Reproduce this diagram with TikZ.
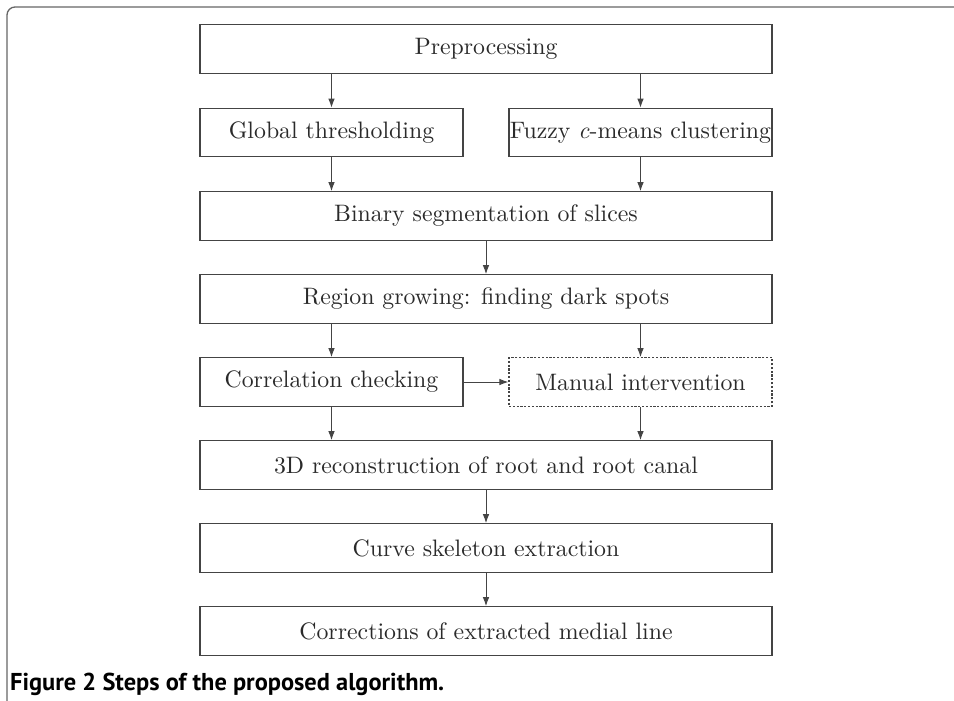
\documentclass[tikz,border=0pt]{standalone}
\usepackage{fontspec}
\newfontfamily\capfont{PT Sans}
\newfontfamily\boxfont{lmroman10-regular.otf}[ItalicFont=lmroman10-italic.otf]
\usetikzlibrary{arrows.meta}
\definecolor{lc}{HTML}{444444}
\definecolor{tc}{HTML}{2a2a2a}
\tikzset{
  stepbox/.style={draw=lc, line width=1.1pt, rectangle, minimum height=48.5pt, inner sep=0pt, text=tc, font=\boxfont\fontsize{23.8}{28}\selectfont},
  widebox/.style={stepbox, minimum width=572pt},
  halfbox/.style={stepbox, minimum width=263pt},
  manbox/.style={halfbox, dash pattern=on 2.2pt off 1.6pt},
  arr/.style={draw=lc, line width=1pt, -{Latex[length=9pt,width=6.5pt]}},
}
\begin{document}
\begin{tikzpicture}[x=1pt,y=-1pt]
\useasboundingbox (0,0) rectangle (954,701);
\draw[color=gray!80!black, line width=1.3pt, rounded corners=8pt] (7,701) -- (7,7) -- (954,7);
\node[widebox] (pre) at (486,49) {Preprocessing};
\node[halfbox] (glob) at (331.5,132.5) {Global thresholding};
\node[halfbox] (fuzzy) at (640.5,132.5) {Fuzzy \textit{c}-means clustering};
\node[widebox] (bin) at (486,216) {Binary segmentation of slices};
\node[widebox] (reg) at (486,299) {Region growing: finding dark spots};
\node[halfbox] (corr) at (331.5,382) {Correlation checking};
\node[manbox] (man) at (640.5,382) {Manual intervention};
\node[widebox] (rec) at (486,465) {3D reconstruction of root and root canal};
\node[widebox] (skel) at (486,548) {Curve skeleton extraction};
\node[widebox] (cor) at (486,631) {Corrections of extracted medial line};
\node[anchor=base west, inner sep=0pt, font=\capfont\bfseries\fontsize{24.4}{27}\selectfont] (cap) at (10,690) {Figure 2 Steps of the proposed algorithm.};
\draw[arr] (glob.north |- pre.south) -- (glob.north);
\draw[arr] (fuzzy.north |- pre.south) -- (fuzzy.north);
\draw[arr] (glob.south) -- (glob.south |- bin.north);
\draw[arr] (fuzzy.south) -- (fuzzy.south |- bin.north);
\draw[arr] (bin.south) -- (reg.north);
\draw[arr] (corr.north |- reg.south) -- (corr.north);
\draw[arr] (man.north |- reg.south) -- (man.north);
\draw[arr] (corr.east) -- (man.west);
\draw[arr] (corr.south) -- (corr.south |- rec.north);
\draw[arr] (man.south) -- (man.south |- rec.north);
\draw[arr] (rec.south) -- (skel.north);
\draw[arr] (skel.south) -- (cor.north);
\end{tikzpicture}
\end{document}
